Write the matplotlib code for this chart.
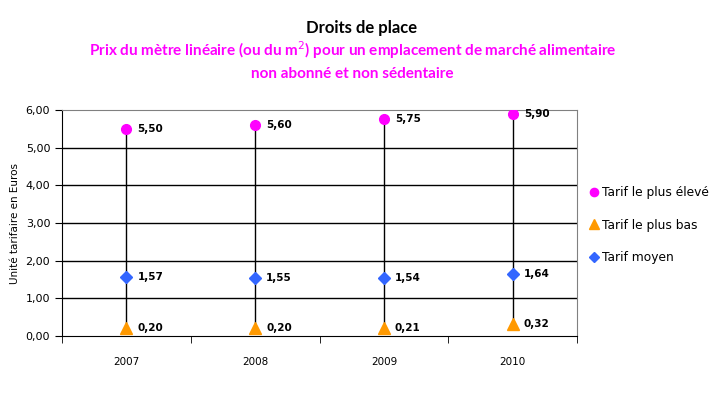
import matplotlib
matplotlib.use("Agg")
import matplotlib.pyplot as plt

years = ["2007", "2008", "2009", "2010"]
high = [5.50, 5.60, 5.75, 5.90]
low = [0.20, 0.20, 0.21, 0.32]
avg = [1.57, 1.55, 1.54, 1.64]
yticks = [0, 1, 2, 3, 4, 5, 6]

def fr(v):
    return f"{v:.2f}".replace(".", ",")

fig = plt.figure(figsize=(7.16, 3.94), dpi=100)
ax = fig.add_axes([62/716, 58/394, 515/716, 226/394])
x = list(range(len(years)))

for i in x:
    ax.plot([i, i], [low[i], high[i]], color="black", lw=1, zorder=2)

ax.plot(x, high, ls="none", marker="o", ms=7, color="#FF00FF", zorder=3, label="Tarif le plus élevé")
ax.plot(x, low, ls="none", marker="^", ms=8, color="#FF9900", zorder=3, label="Tarif le plus bas")
ax.plot(x, avg, ls="none", marker="D", ms=6, color="#3366FF", zorder=3, label="Tarif moyen")

for series in (high, low, avg):
    for i, v in zip(x, series):
        ax.annotate(fr(v), (i, v), xytext=(8, 0), textcoords="offset points",
                    va="center", ha="left", fontsize=7.5, fontweight="bold",
                    family="DejaVu Sans")

ax.set_xlim(-0.5, len(years) - 0.5)
ax.set_ylim(0, 6)
ax.set_yticks(yticks)
ax.set_yticklabels([fr(v) for v in yticks], fontsize=8, family="DejaVu Sans")
ax.set_xticks(x)
ax.set_xticklabels(years, fontsize=7.5, family="DejaVu Sans")
ax.tick_params(axis="x", length=0, pad=15)
ax.set_xticks([-0.5, 0.5, 1.5, 2.5, 3.5], minor=True)
ax.tick_params(axis="x", which="minor", length=5, direction="out", color="black")
ax.tick_params(axis="y", length=5, direction="out", color="black")
for yv in yticks[1:-1]:
    ax.axhline(yv, color="black", lw=1, zorder=1)
ax.spines["top"].set_color("#808080")
ax.spines["right"].set_color("#808080")
ax.spines["left"].set_color("black")
ax.spines["bottom"].set_color("black")

ax.set_ylabel("Unité tarifaire en Euros", fontsize=7.5, family="DejaVu Sans", labelpad=4)

fig.text(0.5 + 0.005, 1 - 28/394, "Droits de place", ha="center", va="center",
         fontsize=12, fontweight="bold", family="Lato", color="black")
fig.text(0.5 - 0.008, 1 - 50/394, "Prix du mètre linéaire (ou du m$^{2}$) pour un emplacement de marché alimentaire",
         ha="center", va="center", fontsize=11, fontweight="bold", family="Lato", color="#FF00FF")
fig.text(0.5 - 0.008, 1 - 74/394, "non abonné et non sédentaire",
         ha="center", va="center", fontsize=11, fontweight="bold", family="Lato", color="#FF00FF")

leg = fig.legend(loc="center left", bbox_to_anchor=(582/716, 1 - 225/394), frameon=False,
                 prop={"family": "DejaVu Sans", "size": 8.8}, handletextpad=0.0,
                 handlelength=1.2, labelspacing=1.6, borderaxespad=0, markerscale=0.85)

fig.savefig("out.png", dpi=100)
